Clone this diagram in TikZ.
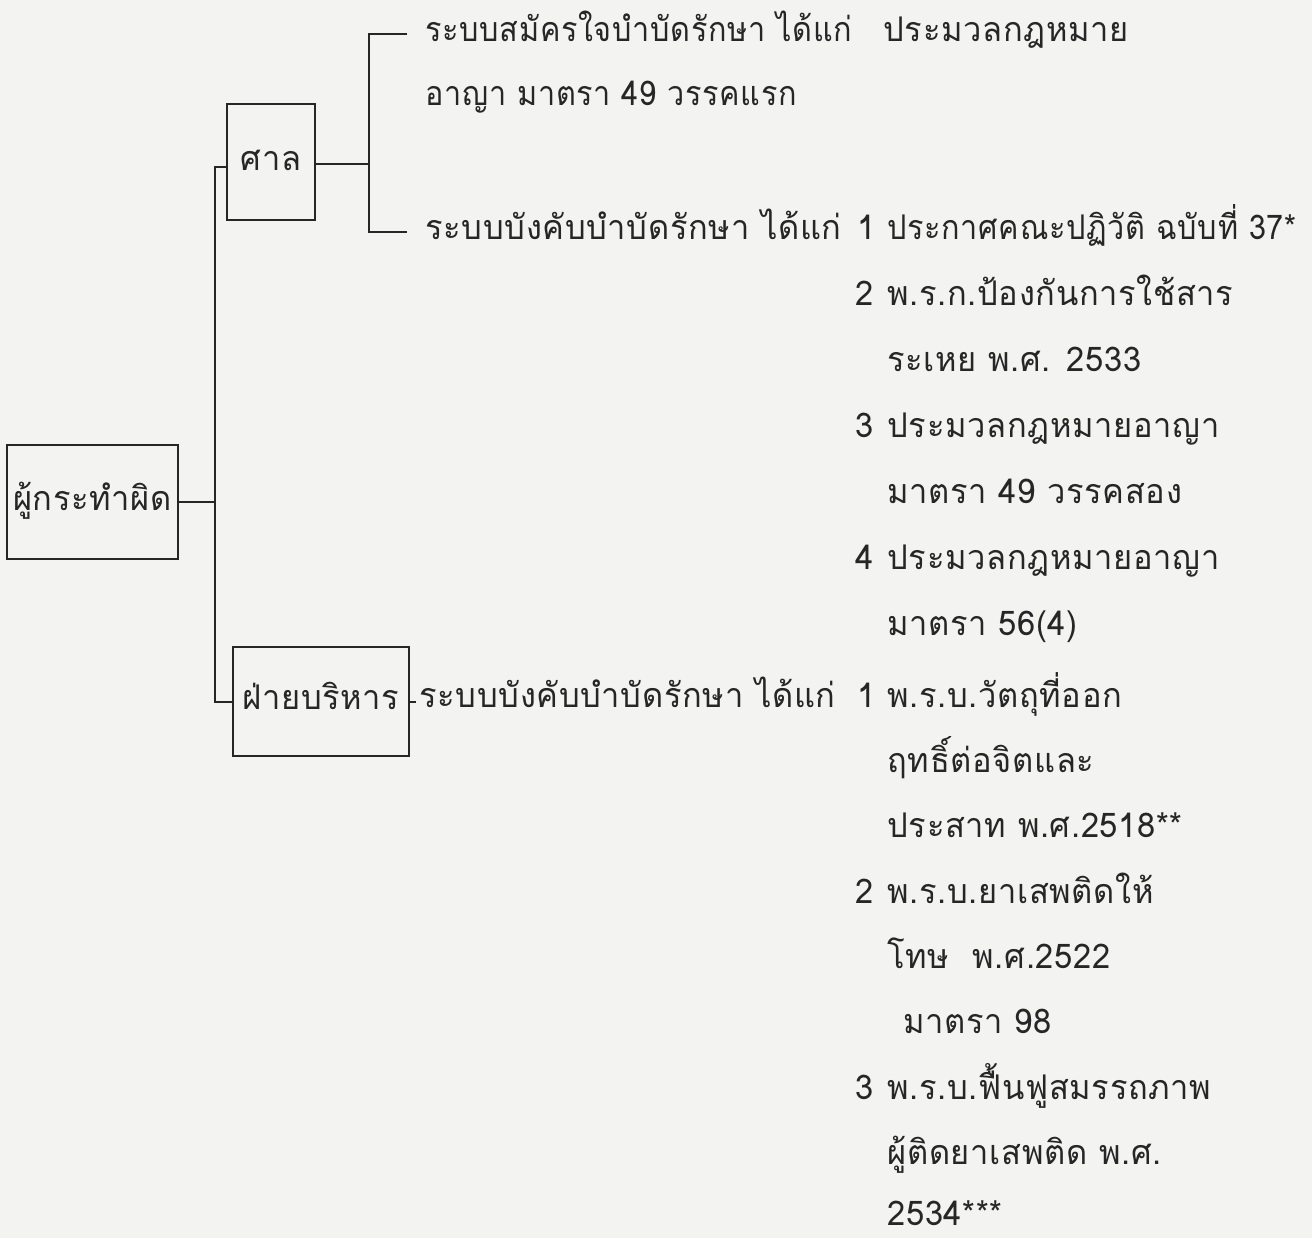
\documentclass[tikz,border=0pt]{standalone}
\usepackage{fontspec}
\newfontfamily\thaifont[Script=Thai,LetterSpace=2,FakeStretch=0.96]{Loma}
\newfontfamily\thainarrow[Script=Thai,LetterSpace=2,FakeStretch=0.9]{Loma}
\definecolor{ink}{RGB}{38,38,38}
\definecolor{paper}{RGB}{243,243,241}
\begin{document}
\begin{tikzpicture}[x=0.5pt,y=-0.5pt,
  every node/.style={font=\thaifont\fontsize{17}{20}\selectfont, text=ink, inner sep=0pt},
  txt/.style={anchor=base west},
  narrow/.style={font=\thainarrow\fontsize{17}{20}\selectfont},
  boxnode/.style={draw=ink, line width=1.1pt, text height=8pt, text depth=0pt},
  link/.style={draw=ink, line width=1.1pt}]
\fill[paper] (0,0) rectangle (1312,1238);
\useasboundingbox (0,0) rectangle (1312,1238);
% boxes
\node[boxnode, minimum width=85.5pt, minimum height=57pt] (root) at (92.5,502) {ผู้กระทำผิด};
\node[boxnode, minimum width=44pt, minimum height=58pt] (sal) at (271,162) {ศาล};
\node[boxnode, minimum width=88pt, minimum height=54.5pt] (exe) at (321,701.5) {ฝ่ายบริหาร};
% coordinates
\coordinate (spTop) at (215,167);
\coordinate (spBot) at (215,702);
\coordinate (brMid) at (369,164);
\coordinate (brTop) at (369,34);
\coordinate (brBot) at (369,232);
\coordinate (tA) at (407,34);
\coordinate (tB) at (407,232);
\coordinate (tC) at (416,702);
% connectors
\draw[link] (sal.west |- spTop) -- (spTop) -- (spBot) -- (exe.west |- spBot);
\draw[link] (root.east) -- (root.east -| spTop);
\draw[link] (sal.east |- brMid) -- (brMid);
\draw[link] (tA) -- (brTop) -- (brBot) -- (tB);
\draw[link] (exe.east |- spBot) -- (tC);
% court texts
\node[txt, narrow] (a1) at (425,41) {ระบบสมัครใจบำบัดรักษา ได้แก่};
\node[txt] (a1b) at (883,41) {ประมวลกฎหมาย};
\node[txt, narrow] (a2) at (425,105) {อาญา มาตรา 49 วรรคแรก};
\node[txt] (b0) at (425,239) {ระบบบังคับบำบัดรักษา ได้แก่};
\node[txt] (b1n) at (857,239) {1};
\node[txt, narrow] (b1) at (887,239) {ประกาศคณะปฏิวัติ ฉบับที่ 37*};
\node[txt] (b2n) at (855,305) {2};
\node[txt] (b2) at (887,305) {พ.ร.ก.ป้องกันการใช้สาร};
\node[txt] (b2b) at (887,371) {ระเหย พ.ศ. 2533};
\node[txt] (b3n) at (855,437) {3};
\node[txt] (b3) at (887,437) {ประมวลกฎหมายอาญา};
\node[txt] (b3b) at (887,503) {มาตรา 49 วรรคสอง};
\node[txt] (b4n) at (855,569) {4};
\node[txt] (b4) at (887,569) {ประมวลกฎหมายอาญา};
\node[txt] (b4b) at (887,635) {มาตรา 56(4)};
% executive texts
\node[txt] (c0) at (419,707) {ระบบบังคับบำบัดรักษา ได้แก่};
\node[txt] (c1n) at (857,707) {1};
\node[txt] (c1) at (887,707) {พ.ร.บ.วัตถุที่ออก};
\node[txt] (c1b) at (887,772) {ฤทธิ์ต่อจิตและ};
\node[txt] (c1c) at (887,837) {ประสาท พ.ศ.2518**};
\node[txt] (c2n) at (855,903) {2};
\node[txt] (c2) at (887,903) {พ.ร.บ.ยาเสพติดให้};
\node[txt] (c2b) at (887,968) {โทษ \ พ.ศ.2522};
\node[txt] (c2c) at (903,1033) {มาตรา 98};
\node[txt] (c3n) at (855,1099) {3};
\node[txt] (c3) at (887,1099) {พ.ร.บ.ฟื้นฟูสมรรถภาพ};
\node[txt] (c3b) at (887,1164) {ผู้ติดยาเสพติด พ.ศ.};
\node[txt, text depth=0pt, text height=9pt] (c3c) at (887,1225) {2534***};
\end{tikzpicture}
\end{document}
